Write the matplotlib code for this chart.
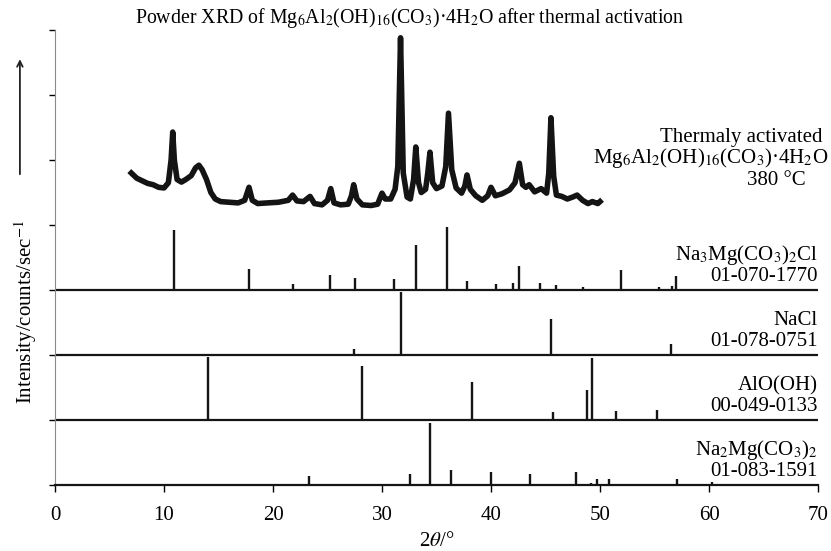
import matplotlib
matplotlib.use("Agg")
import matplotlib.pyplot as plt

plt.rcParams["font.family"] = ["Liberation Serif", "DejaVu Serif"]
plt.rcParams["mathtext.fontset"] = "stix"

# measured pattern of the activated sample (2theta, intensity in panel units)
xrd_2theta = [7.0, 7.5, 8.0, 8.5, 9.0, 9.5, 10.0, 10.4, 10.65, 10.8, 10.95, 11.2, 11.6, 12.0,
              12.5, 12.9, 13.2, 13.5, 13.9, 14.3, 14.7, 15.2, 16.0, 16.8, 17.4, 17.8, 18.1,
              18.6, 19.5, 20.5, 21.4, 21.8, 22.2, 22.8, 23.4, 23.8, 24.5, 25.0, 25.3, 25.6,
              26.2, 26.9, 27.2, 27.4, 27.7, 28.2, 29.0, 29.6, 30.0, 30.3, 30.8, 31.2, 31.45,
              31.7, 31.95, 32.3, 32.6, 32.9, 33.1, 33.35, 33.6, 34.0, 34.2, 34.4, 34.65,
              35.0, 35.5, 35.85, 36.1, 36.4, 36.8, 37.3, 37.6, 37.8, 38.1, 38.6, 39.2, 39.7,
              40.0, 40.4, 41.0, 41.7, 42.2, 42.6, 42.9, 43.2, 43.5, 44.0, 44.6, 45.1, 45.3,
              45.5, 45.75, 46.0, 46.5, 47.0, 47.5, 47.9, 48.4, 48.9, 49.3, 49.8, 50.0]
xrd_counts = [4.80, 4.72, 4.68, 4.64, 4.62, 4.58, 4.57, 4.65, 5.00, 5.43, 5.00, 4.70, 4.66, 4.70,
              4.76, 4.88, 4.92, 4.85, 4.70, 4.50, 4.40, 4.36, 4.35, 4.34, 4.38, 4.58, 4.38,
              4.33, 4.34, 4.35, 4.38, 4.46, 4.37, 4.36, 4.44, 4.33, 4.31, 4.38, 4.56, 4.34,
              4.31, 4.32, 4.45, 4.62, 4.40, 4.31, 4.30, 4.32, 4.49, 4.40, 4.40, 4.55, 4.90,
              6.88, 4.80, 4.43, 4.40, 4.70, 5.20, 4.65, 4.50, 4.55, 4.80, 5.12, 4.65,
              4.56, 4.60, 4.90, 5.72, 4.85, 4.57, 4.49, 4.60, 4.77, 4.55, 4.45, 4.38, 4.45,
              4.58, 4.45, 4.48, 4.54, 4.65, 4.95, 4.62, 4.58, 4.62, 4.51, 4.56, 4.49, 4.80,
              5.65, 4.75, 4.46, 4.44, 4.40, 4.43, 4.46, 4.38, 4.33, 4.36, 4.33, 4.36]

# reference cards: peak positions and relative heights
na3_pos = [10.9, 17.8, 20.9, 21.8, 25.2, 27.5, 31.1, 33.1, 36.0, 37.8, 40.5, 42.0, 42.6,
           44.5, 46.0, 48.4, 49.7, 51.9, 55.4, 56.6, 57.0]
na3_int = [0.92, 0.32, 0.02, 0.10, 0.23, 0.18, 0.17, 0.70, 0.97, 0.14, 0.09, 0.11, 0.37,
           0.11, 0.08, 0.05, 0.02, 0.31, 0.05, 0.06, 0.21]
nacl_pos = [27.4, 31.7, 45.5, 53.9, 56.5]
nacl_int = [0.10, 0.97, 0.55, 0.02, 0.17]
alooh_pos = [14.0, 28.2, 38.3, 45.7, 48.8, 49.3, 51.5, 55.2]
alooh_int = [0.97, 0.83, 0.58, 0.13, 0.46, 0.95, 0.14, 0.16]
na2_pos = [16.1, 21.4, 23.3, 32.6, 34.4, 36.3, 40.0, 42.5, 43.6, 47.8, 49.2, 49.7, 50.8,
           57.1, 58.0, 60.3]
na2_int = [0.02, 0.02, 0.14, 0.17, 0.96, 0.23, 0.20, 0.02, 0.17, 0.20, 0.03, 0.10, 0.10,
           0.09, 0.02, 0.05]

cards = [
    (na3_pos, na3_int, 3, "Na$_3$Mg(CO$_3$)$_2$Cl", "01-070-1770"),
    (nacl_pos, nacl_int, 2, "NaCl", "01-078-0751"),
    (alooh_pos, alooh_int, 1, "AlO(OH)", "00-049-0133"),
    (na2_pos, na2_int, 0, "Na$_2$Mg(CO$_3$)$_2$", "01-083-1591"),
]

fig = plt.figure(figsize=(8.31, 5.51), dpi=100)
ax = fig.add_axes([55 / 831, 1 - 485 / 551, 763 / 831, 455 / 551])

ax.plot(xrd_2theta, xrd_counts, color="#141414", lw=4.0, solid_joinstyle="round")

for pos, inten, base, name, code in cards:
    ax.vlines(pos, base, [base + h for h in inten], color="#151515", lw=1.7)
    if base > 0:
        ax.axhline(base, color="#151515", lw=1.6)
    ax.text(70, base + 0.46, name, ha="right", va="baseline", fontsize=15)
    ax.text(70, base + 0.14, code, ha="right", va="baseline", fontsize=15)

ax.text(70.4, 5.28, "Thermaly activated", ha="right", va="baseline", fontsize=15)
ax.text(71.0, 4.95, "Mg$_6$Al$_2$(OH)$_{16}$(CO$_3$)·4H$_2$O", ha="right", va="baseline",
        fontsize=15)
ax.text(68.9, 4.62, "380 °C", ha="right", va="baseline", fontsize=15)

ax.set_xlim(0, 70)
ax.set_ylim(0, 7)
ax.set_xticks(range(0, 71, 10))
ax.set_yticks(range(0, 8))
ax.set_yticklabels([])
ax.spines["top"].set_visible(False)
ax.spines["right"].set_visible(False)
ax.spines["left"].set_color("#8a8a8a")
ax.spines["bottom"].set_linewidth(1.6)
ax.spines["bottom"].set_color("#151515")
ax.tick_params(axis="x", direction="out", length=5, width=1, pad=10, labelsize=15)
ax.tick_params(axis="y", direction="out", length=4, width=1)

ax.set_xlabel(r"2$\theta$/°", fontsize=15, labelpad=5)
ax.text(-0.039, 0.38, "Intensity/counts/sec$^{-1}$", transform=ax.transAxes,
        rotation=90, ha="center", va="center", fontsize=15)
ax.annotate("", xy=(-0.046, 0.942), xytext=(-0.046, 0.677), xycoords="axes fraction",
            arrowprops=dict(arrowstyle="->", color="#222222", lw=1.3), annotation_clip=False)

fig.text(410 / 831, 1 - 23 / 551,
         "Powder XRD of Mg$_6$Al$_2$(OH)$_{16}$(CO$_3$)·4H$_2$O after thermal activation",
         ha="center", va="baseline", fontsize=14.3)

fig.savefig("out.png", dpi=100)
